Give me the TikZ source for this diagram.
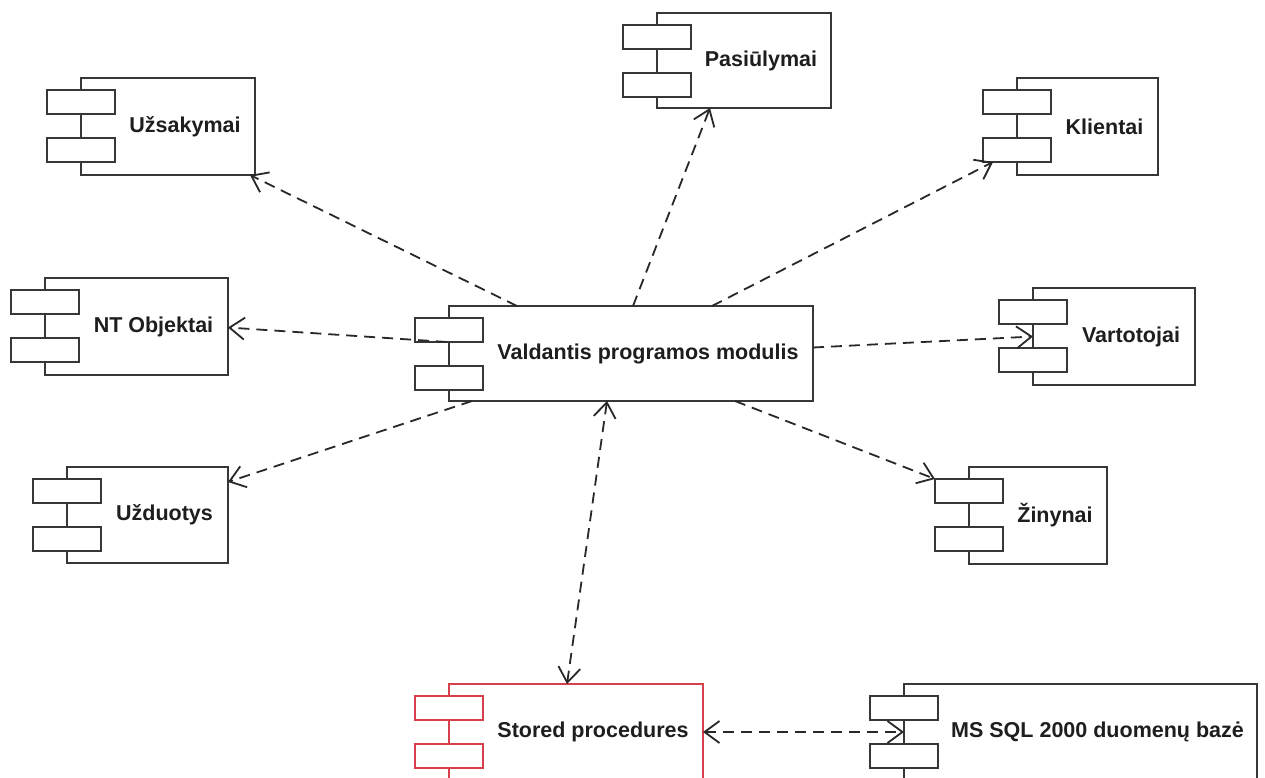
\documentclass[tikz,border=0pt]{standalone}
\usepackage{fontspec}
\setmainfont{Liberation Sans}
\usetikzlibrary{arrows.meta,calc}
\definecolor{boxc}{RGB}{55,55,55}
\definecolor{redc}{RGB}{214,64,76}
\definecolor{txtc}{RGB}{30,30,30}
\definecolor{linec}{RGB}{40,40,40}
\tikzset{
  >={Straight Barb[length=15pt,width=22pt]},
  body/.style={draw=#1, line width=2pt, fill=white, inner sep=0pt, outer sep=0pt, anchor=north west, rectangle},
  port/.style={draw=#1, line width=2pt, fill=white, inner sep=0pt, outer sep=0pt, minimum width=68pt, minimum height=24pt},
  lbl/.style={font=\fontsize{21.5}{25}\selectfont\bfseries, text=txtc, inner sep=0pt},
  dep/.style={draw=linec, line width=1.8pt, dash pattern=on 11pt off 7pt, ->},
  bidep/.style={draw=linec, line width=1.8pt, dash pattern=on 11pt off 7pt, <->}
}
\newcommand{\umlcomp}[7]{%
  \node[body=#7, minimum width=#4pt, minimum height=#5pt] (#1) at (#2,#3) {};
  \node[port=#7] (#1-p1) at (#2,#3+24) {};
  \node[port=#7] (#1-p2) at (#2,#3+72) {};
  \node[lbl] (#1-t) at ({#2+17+#4/2},{#3+#5/2}) {#6};
}
\begin{document}
\begin{tikzpicture}[x=1pt,y=-1pt]
\useasboundingbox (0,0) rectangle (1265,778);
\clip (0,0) rectangle (1265,778);
\fill[white] (0,0) rectangle (1265,778);
% components
\umlcomp{uzs}{81}{78}{174}{97}{Užsakymai}{boxc}
\umlcomp{pas}{657}{13}{174}{95}{Pasiūlymai}{boxc}
\umlcomp{kli}{1017}{78}{141}{97}{Klientai}{boxc}
\umlcomp{nto}{45}{278}{183}{97}{NT Objektai}{boxc}
\umlcomp{val}{449}{306}{364}{95}{Valdantis programos modulis}{boxc}
\umlcomp{var}{1033}{288}{162}{97}{Vartotojai}{boxc}
\umlcomp{uzd}{67}{467}{161}{96}{Užduotys}{boxc}
\umlcomp{zin}{969}{467}{138}{97}{Žinynai}{boxc}
\umlcomp{sto}{449}{684}{254}{96}{Stored procedures}{redc}
\umlcomp{sql}{904}{684}{353}{96}{MS SQL 2000 duomenų bazė}{boxc}
% connectors
\draw[dep] ($(val.north west)+(68,0)$) -- ($(uzs.south east)+(-5,0)$);
\draw[dep] ($(val.north west)+(184,0)$) -- ($(pas.south west)+(53,0)$);
\draw[dep] ($(val.north west)+(263,0)$) -- ($(kli-p2.south)+(-24,0)$);
\draw[dep] ($(val-p1.south)+(-2,0)$) -- ($(nto.east)+(0,1)$);
\draw[dep] ($(val.east)+(0,-6)$) -- (var.west);
\draw[dep] ($(val.south west)+(23,0)$) -- ($(uzd.north east)+(0,15)$);
\draw[dep] ($(val.south east)+(-78,0)$) -- (zin-p1.north west);
\draw[bidep] ($(val.south west)+(158,0)$) -- ($(sto.north west)+(118,0)$);
\draw[bidep] (sto.east) -- (sql.west);
\end{tikzpicture}
\end{document}
